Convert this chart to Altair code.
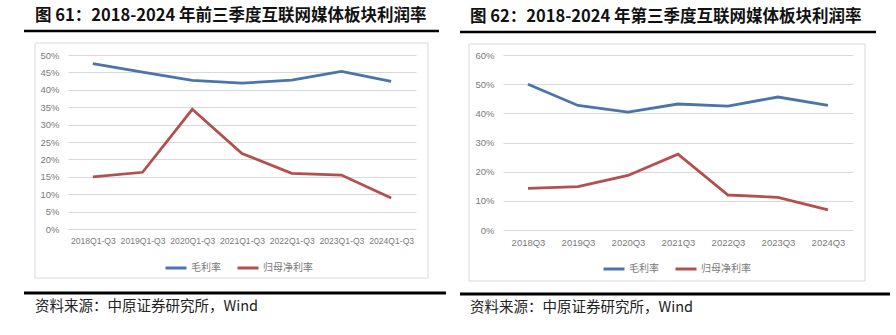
import altair as alt
import pandas as pd

# ---- data ----
cats_left = ["2018Q1-Q3", "2019Q1-Q3", "2020Q1-Q3", "2021Q1-Q3", "2022Q1-Q3", "2023Q1-Q3", "2024Q1-Q3"]
gross_left = [0.475, 0.451, 0.427, 0.419, 0.428, 0.453, 0.424]
net_left = [0.150, 0.163, 0.344, 0.217, 0.160, 0.155, 0.089]

cats_right = ["2018Q3", "2019Q3", "2020Q3", "2021Q3", "2022Q3", "2023Q3", "2024Q3"]
gross_right = [0.500, 0.427, 0.404, 0.432, 0.425, 0.456, 0.427]
net_right = [0.143, 0.149, 0.187, 0.260, 0.120, 0.112, 0.069]

series = ["毛利率", "归母净利率"]
colors = ["#4a74aa", "#b3504e"]

title_left = "图 61：2018-2024 年前三季度互联网媒体板块利润率"
title_right = "图 62：2018-2024 年第三季度互联网媒体板块利润率"
source_text = "资料来源：中原证券研究所，Wind"

CJK = "Noto Sans CJK SC"
LBL = "Liberation Sans"
GRAY = "#7a7a7a"


def make_df(cats, gross, net):
    rows = []
    for c, g, n in zip(cats, gross, net):
        rows.append({"cat": c, "series": series[0], "v": g})
        rows.append({"cat": c, "series": series[1], "v": n})
    return pd.DataFrame(rows)


one = pd.DataFrame({"k": [0]})


def panel(cats, gross, net, ymax, ystep, fmt, W, H, geo):
    df = make_df(cats, gross, net)
    yvals = [round(i * ystep, 4) for i in range(int(round(ymax / ystep)) + 1)]

    frame = alt.Chart(one).mark_rect(fill="white", fillOpacity=0, strokeWidth=0).encode(
        x=alt.value(geo["fx1"]), x2=alt.value(geo["fx2"]),
        y=alt.value(geo["fy1"]), y2=alt.value(geo["fy2"]))

    border = alt.Chart(one).mark_rect(filled=False, stroke="#d9d9d9", strokeWidth=1).encode(
        x=alt.value(geo["bx1"]), x2=alt.value(geo["bx2"]),
        y=alt.value(geo["by1"]), y2=alt.value(geo["by2"]))

    title = alt.Chart(one).mark_text(
        align="left", baseline="middle", font=CJK, fontSize=16.5, fontWeight="bold", color="#111111"
    ).encode(x=alt.value(geo["tx"]), y=alt.value(geo["ty"]), text=alt.value(geo["title"]))

    trule = alt.Chart(one).mark_rule(color="black", strokeWidth=2.5).encode(
        x=alt.value(geo["rx1"]), x2=alt.value(geo["rx2"]), y=alt.value(geo["ry"]))

    brule = alt.Chart(one).mark_rule(color="black", strokeWidth=3).encode(
        x=alt.value(geo["rx1"]), x2=alt.value(geo["brx2"]), y=alt.value(geo["bry"]))

    src = alt.Chart(one).mark_text(
        align="left", baseline="middle", font=CJK, fontSize=14.5, color="#222222"
    ).encode(x=alt.value(geo["tx"]), y=alt.value(geo["sy"]), text=alt.value(source_text))

    lines = alt.Chart(df).mark_line(strokeWidth=2.8).encode(
        x=alt.X("cat:N", sort=cats, scale=alt.Scale(padding=0.5),
                axis=alt.Axis(title=None, labelAngle=0, domain=False, ticks=False, grid=False,
                              labelOverlap=False, labelPadding=7, labelFontSize=geo["xfs"],
                              labelFont=LBL, labelColor=GRAY)),
        y=alt.Y("v:Q", scale=alt.Scale(domain=[0, ymax], nice=False, zero=True),
                axis=alt.Axis(title=None, values=yvals, format=fmt, domain=False, ticks=False,
                              grid=True, gridColor="#d9d9d9", gridWidth=1,
                              labelPadding=9, labelFontSize=9.5, labelFont=LBL, labelColor=GRAY)),
        color=alt.Color("series:N", scale=alt.Scale(domain=series, range=colors),
                        legend=alt.Legend(title=None, orient="none", direction="horizontal",
                                          legendX=geo["lx"], legendY=geo["ly"],
                                          symbolType="stroke", symbolSize=441,
                                          symbolStrokeWidth=3, labelFont=CJK, labelFontSize=10,
                                          labelColor=GRAY, labelOffset=3, columnPadding=10,
                                          padding=0)),
    )

    return alt.layer(frame, border, title, trule, brule, src, lines).properties(width=W, height=H)


geo_left = dict(fx1=-68, fx2=380, fy1=-55, fy2=280,
                bx1=-33, bx2=360, by1=-12, by2=223,
                tx=-33, ty=-39, title=title_left,
                rx1=-44, rx2=371, ry=-24, brx2=378, bry=238, sy=252,
                lx=96, ly=201, xfs=8.6)

geo_right = dict(fx1=-55, fx2=393, fy1=-54, fy2=281,
                 bx1=-34, bx2=362, by1=-11, by2=226,
                 tx=-33, ty=-38, title=title_right,
                 rx1=-43, rx2=373, ry=-23, brx2=387, bry=239, sy=253,
                 lx=99, ly=202, xfs=9.5)

left = panel(cats_left, gross_left, net_left, 0.5, 0.05, ".0%", 348, 174, geo_left)
right = panel(cats_right, gross_right, net_right, 0.6, 0.1, ".0%", 350, 175, geo_right)

chart = alt.hconcat(left, right, spacing=0).resolve_scale(
    color="independent", x="independent", y="independent"
).resolve_legend(color="independent").properties(
    padding=0, background="white"
).configure_view(stroke=None)

chart.save("out.html", embed_options={"renderer": "svg", "actions": False})
